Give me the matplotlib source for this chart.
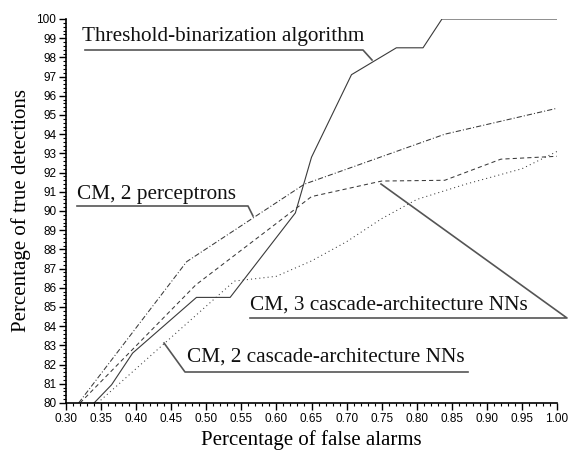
import matplotlib
matplotlib.use("Agg")
import matplotlib.pyplot as plt
from matplotlib.ticker import MultipleLocator, FormatStrFormatter

# Threshold-binarization algorithm (solid)
thr_x = [0.340, 0.365, 0.395, 0.486, 0.534, 0.627, 0.650, 0.707, 0.771, 0.809, 0.836, 1.000]
thr_y = [80.0, 80.95, 82.6, 85.5, 85.5, 89.9, 92.8, 97.1, 98.5, 98.5, 100.0, 100.0]
# CM, 2 perceptrons (dash-dot)
per_x = [0.318, 0.472, 0.640, 0.840, 1.000]
per_y = [80.0, 87.36, 91.4, 94.0, 95.35]
# CM, 3 cascade-architecture NNs (dashed)
c3_x = [0.320, 0.485, 0.650, 0.750, 0.840, 0.920, 1.000]
c3_y = [80.0, 86.15, 90.75, 91.56, 91.6, 92.7, 92.85]
# CM, 2 cascade-architecture NNs (dotted)
c2_x = [0.345, 0.540, 0.600, 0.650, 0.700, 0.750, 0.800, 0.870, 0.950, 1.000]
c2_y = [80.0, 86.35, 86.6, 87.4, 88.4, 89.6, 90.6, 91.4, 92.2, 93.1]

x_ticks = [0.30, 0.35, 0.40, 0.45, 0.50, 0.55, 0.60, 0.65, 0.70, 0.75, 0.80, 0.85, 0.90, 0.95, 1.00]
y_ticks = list(range(80, 101))

fig = plt.figure(figsize=(5.73, 4.53), dpi=100)
ax = fig.add_axes([66/573, 50/453, (557-66)/573, (403-19)/453])

lc = "#3a3a3a"
ax.plot(thr_x, thr_y, color=lc, lw=0.8, ls="-")
ax.plot(per_x, per_y, color=lc, lw=0.75, ls=(0, (5, 2, 1, 2)))
ax.plot(c3_x, c3_y, color=lc, lw=0.75, ls=(0, (4, 3)))
ax.plot(c2_x, c2_y, color=lc, lw=0.75, ls=(0, (1, 3)))

ax.set_xlim(0.30, 1.00)
ax.set_ylim(80, 100)
ax.set_xticks(x_ticks)
ax.set_yticks(y_ticks)
ax.xaxis.set_major_formatter(FormatStrFormatter("%.2f"))
ax.xaxis.set_minor_locator(MultipleLocator(0.01))
ax.yaxis.set_minor_locator(MultipleLocator(0.2))
for s in ["top", "right"]:
    ax.spines[s].set_visible(False)
for s in ["left", "bottom"]:
    ax.spines[s].set_linewidth(1.2)
    ax.spines[s].set_color("black")
ax.tick_params(which="major", direction="out", length=5, width=1.0,
               labelsize=8.5, pad=2)
ax.tick_params(which="minor", direction="out", length=2.5, width=0.8)
for lab in ax.get_xticklabels() + ax.get_yticklabels():
    lab.set_family("Liberation Sans")

serif = "Liberation Serif"
ax.set_xlabel("Percentage of false alarms", family=serif, fontsize=15, labelpad=4)
ax.set_ylabel("Percentage of true detections", family=serif, fontsize=15, labelpad=4)

def px(xp, yp):
    # figure pixel (from top-left) to figure fraction
    return (xp / 573, 1 - yp / 453)

ann_c = "#555555"
tc = "#111111"
fs = 15.3
# Threshold-binarization
fig.text(*px(82, 36), "Threshold-binarization algorithm", family=serif,
         fontsize=fs, color=tc, va="center", ha="left")
fig.add_artist(plt.Line2D([85/573, 363/573, 372/573],
                          [1-50/453, 1-50/453, 1-60/453], color=ann_c, lw=1.2))
# CM, 2 perceptrons
fig.text(*px(77, 194), "CM, 2 perceptrons", family=serif,
         fontsize=fs, color=tc, va="center", ha="left")
fig.add_artist(plt.Line2D([77/573, 248/573, 253/573],
                          [1-206/453, 1-206/453, 1-216/453], color=ann_c, lw=1.2))
# CM, 3 cascade
fig.text(*px(250, 305), "CM, 3 cascade-architecture NNs", family=serif,
         fontsize=fs, color=tc, va="center", ha="left")
fig.add_artist(plt.Line2D([250/573, 567/573, 381/573],
                          [1-318/453, 1-318/453, 1-184/453], color=ann_c, lw=1.2))
# CM, 2 cascade
fig.text(*px(187, 357), "CM, 2 cascade-architecture NNs", family=serif,
         fontsize=fs, color=tc, va="center", ha="left")
fig.add_artist(plt.Line2D([468/573, 185/573, 164/573],
                          [1-372/453, 1-372/453, 1-343/453], color=ann_c, lw=1.2))

fig.savefig("out.png", dpi=100)
